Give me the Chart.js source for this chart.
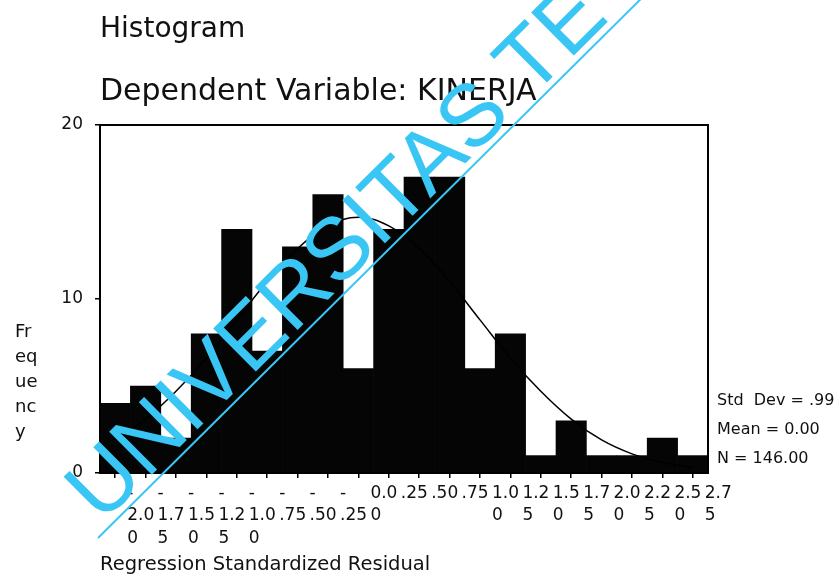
<!DOCTYPE html>
<html>
<head>
<meta charset="utf-8">
<script src="https://cdn.jsdelivr.net/npm/chart.js@4/dist/chart.umd.min.js"></script>
<style>
  body { margin: 0; background: #fff; }
  #wrap { width: 834px; height: 577px; }
</style>
</head>
<body>
<div id="wrap"><canvas id="hist" width="834" height="577"></canvas></div>
<script>
// histogram of regression standardized residuals (SPSS style)
const FONT = '"DejaVu Sans", sans-serif';
const WM_FONT = '"Liberation Sans", Arial, sans-serif';

const binLabels = ["-2.00", "-1.75", "-1.50", "-1.25", "-1.00", "-.75", "-.50", "-.25", "0.00", ".25",
  ".50", ".75", "1.00", "1.25", "1.50", "1.75", "2.00", "2.25", "2.50", "2.75"];
const frequencies = [4, 5, 2, 8, 14, 7, 13, 16, 6, 14, 17, 17, 6, 8, 1, 3, 1, 1, 2, 1];
// normal curve, one value per bin center
const normalCurve = [1.9, 3.1, 4.7, 6.6, 8.8, 11.0, 12.9, 14.2, 14.7, 14.2,
  12.9, 11.0, 8.8, 6.6, 4.7, 3.1, 1.9, 1.1, 0.6, 0.3];
const yTicks = [0, 10, 20];

const titleText = "Histogram";
const subtitleText = "Dependent Variable: KINERJA";
const yTitle = "Frequency";
const xTitle = "Regression Standardized Residual";
const statLines = ["Std  Dev = .99", "Mean = 0.00", "N = 146.00"];
const watermark = "UNIVERSITAS TE";

// SPSS squeezes the tick text into narrow boxes: "-" alone, then 3 chars per line
function wrapLabel(s) {
  const lines = [];
  let rest = s;
  if (rest.startsWith("-")) {
    lines.push("-");
    rest = rest.slice(1);
  }
  while (rest.length > 3) {
    lines.push(rest.slice(0, 3));
    rest = rest.slice(3);
  }
  lines.push(rest);
  return lines;
}

const extras = {
  id: "extras",
  afterDraw(chart) {
    const ctx = chart.ctx;
    const a = chart.chartArea;
    ctx.save();

    ctx.strokeStyle = "#000";
    ctx.lineWidth = 2;
    ctx.strokeRect(a.left, a.top, a.right - a.left, a.bottom - a.top);

    ctx.fillStyle = "#111";
    ctx.textAlign = "left";
    ctx.textBaseline = "alphabetic";
    ctx.font = "28px " + FONT;
    ctx.fillText(titleText, a.left, 37);
    ctx.font = "30px " + FONT;
    ctx.fillText(subtitleText, a.left, 100);

    // y title broken into 2-letter pieces, stacked
    ctx.font = "18px " + FONT;
    for (let i = 0; i * 2 < yTitle.length; i++) {
      ctx.fillText(yTitle.slice(i * 2, i * 2 + 2), 15, 337 + i * 25);
    }

    ctx.font = "16px " + FONT;
    statLines.forEach((s, i) => {
      ctx.fillText(s, a.right + 9, a.bottom - 68 + i * 29);
    });

    // cyan diagonal watermark on top of everything
    ctx.translate(98, 538);
    ctx.rotate(-44.8 * Math.PI / 180);
    ctx.strokeStyle = "#3ac6f4";
    ctx.lineWidth = 2;
    ctx.beginPath();
    ctx.moveTo(0, 0);
    ctx.lineTo(800, 0);
    ctx.stroke();
    ctx.fillStyle = "#3ac6f4";
    ctx.font = "88px " + WM_FONT;
    ctx.fillText(watermark, 12, -7);

    ctx.restore();
  }
};

new Chart(document.getElementById("hist"), {
  type: "bar",
  data: {
    labels: binLabels,
    datasets: [
      {
        type: "line",
        data: normalCurve,
        borderColor: "#000",
        borderWidth: 1.5,
        pointRadius: 0,
        tension: 0.4,
        fill: false,
        order: 0,
      },
      {
        type: "bar",
        data: frequencies,
        backgroundColor: "#050505",
        borderWidth: 0,
        barPercentage: 1,
        categoryPercentage: 1,
        order: 1,
      },
    ],
  },
  options: {
    responsive: false,
    animation: false,
    layout: { padding: { left: 0, right: 126, top: 125, bottom: 0 } },
    plugins: {
      legend: { display: false },
      tooltip: { enabled: false },
    },
    scales: {
      x: {
        offset: true,
        grid: { display: true, drawOnChartArea: false, offset: false, tickLength: 5, color: "#000", lineWidth: 1.5 },
        border: { display: true, color: "#000", width: 2 },
        ticks: {
          autoSkip: false,
          maxRotation: 0,
          minRotation: 0,
          align: "start",
          padding: 4,
          labelOffset: 12,
          color: "#111",
          font: { family: FONT, size: 17, lineHeight: 1.32 },
          callback: (value, index) => wrapLabel(binLabels[index]),
        },
        title: {
          display: true,
          text: xTitle,
          align: "start",
          color: "#111",
          padding: { top: 0, bottom: 0 },
          font: { family: FONT, size: 19.5, lineHeight: 1.2 },
        },
        afterFit: (scale) => { scale.height = 104; },
      },
      y: {
        min: 0,
        max: 20,
        grid: { display: true, drawOnChartArea: false, tickLength: 5, color: "#000", lineWidth: 1.5 },
        border: { display: true, color: "#000", width: 2 },
        afterBuildTicks: (scale) => { scale.ticks = yTicks.map((v) => ({ value: v })); },
        ticks: {
          padding: 12,
          color: "#111",
          font: { family: FONT, size: 17 },
        },
        afterFit: (scale) => { scale.width = 100; },
      },
    },
  },
  plugins: [extras],
});
</script>
</body>
</html>
